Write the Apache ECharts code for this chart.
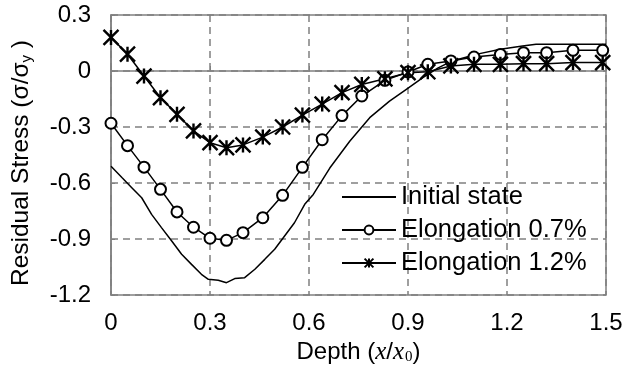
<!DOCTYPE html>
<html>
<head>
<meta charset="utf-8">
<script src="https://cdn.jsdelivr.net/npm/echarts@6/dist/echarts.min.js"></script>
<style>
  html, body { margin: 0; padding: 0; background: #fff; }
  #chart { width: 625px; height: 367px; }
</style>
</head>
<body>
<div id="chart"></div>
<script>
// depth positions of the markers (x/x0)
const markDepth = [0, 0.05, 0.1, 0.15, 0.2, 0.25, 0.3, 0.35, 0.4, 0.46, 0.52, 0.58, 0.64, 0.7, 0.76, 0.83, 0.9, 0.96, 1.03, 1.1, 1.18, 1.25, 1.32, 1.4, 1.49]
// elongation 0.7 %
const stress07 = [-0.28, -0.4, -0.515, -0.634, -0.755, -0.837, -0.896, -0.907, -0.866, -0.786, -0.666, -0.516, -0.368, -0.239, -0.134, -0.05, -0.005, 0.036, 0.054, 0.075, 0.089, 0.098, 0.098, 0.111, 0.111]
// elongation 1.2 %
const stress12 = [0.18, 0.09, -0.027, -0.143, -0.232, -0.321, -0.384, -0.411, -0.396, -0.354, -0.3, -0.236, -0.177, -0.116, -0.072, -0.042, -0.009, -0.004, 0.027, 0.036, 0.036, 0.039, 0.039, 0.045, 0.045]
// initial state (no markers)
const initDepth = [0, 0.033, 0.063, 0.093, 0.123, 0.153, 0.184, 0.214, 0.244, 0.274, 0.295, 0.325, 0.35, 0.375, 0.405, 0.436, 0.466, 0.496, 0.526, 0.556, 0.587, 0.613, 0.663, 0.724, 0.784, 0.844, 0.895, 0.945, 0.99, 1.034, 1.106, 1.18, 1.247, 1.288, 1.5]
const initStress = [-0.51, -0.571, -0.625, -0.679, -0.768, -0.839, -0.911, -0.982, -1.036, -1.089, -1.116, -1.121, -1.134, -1.112, -1.107, -1.062, -1.009, -0.955, -0.884, -0.813, -0.714, -0.661, -0.52, -0.375, -0.25, -0.161, -0.098, -0.036, 0.015, 0.054, 0.089, 0.116, 0.134, 0.143, 0.143]

const xTicks = [0, 0.3, 0.6, 0.9, 1.2, 1.5]
const yTicks = [-1.2, -0.9, -0.6, -0.3, 0, 0.3]

const pair = (xs, ys) => xs.map((x, i) => [x, ys[i]])
const fmt = (v) => String(Math.round(v * 10) / 10)

const font = 'Liberation Sans'
const starPath = 'path://M0,-10L0,10M-10,-10L10,10M-10,10L10,-10'
const gridGray = '#808080'

const chart = echarts.init(document.getElementById('chart'))

chart.setOption({
  animation: false,
  textStyle: { fontFamily: font, color: '#000' },
  grid: {
    left: 111, right: 19, top: 15, bottom: 72,
    show: true, borderColor: gridGray, borderWidth: 1.5,
    containLabel: false, outerBoundsMode: 'none'
  },
  legend: {
    orient: 'vertical',
    left: 336, top: 176,
    itemWidth: 54, itemHeight: 11, itemGap: 1,
    textStyle: { fontSize: 25.5, color: '#000', fontFamily: font, lineHeight: 32 },
    data: [
      { name: 'Initial state', itemStyle: { opacity: 0 } },
      'Elongation 0.7%',
      'Elongation 1.2%'
    ]
  },
  xAxis: {
    type: 'value',
    min: xTicks[0], max: xTicks[xTicks.length - 1], interval: 0.3,
    axisLine: { lineStyle: { color: gridGray, width: 1.5 } },
    axisTick: { inside: true, length: 5, lineStyle: { color: gridGray } },
    axisLabel: { fontSize: 24, color: '#000', margin: 16, formatter: fmt },
    splitLine: { lineStyle: { color: gridGray, type: [7, 5], width: 1.5 } },
    name: '{n|Depth (}{i|x}{n|/}{i|x}{s|0}{n|)}',
    nameLocation: 'middle', nameGap: 40,
    nameTextStyle: {
      rich: {
        n: { fontSize: 24, fontFamily: font, color: '#000' },
        i: { fontSize: 25, fontFamily: 'Liberation Serif', fontStyle: 'italic', color: '#000' },
        s: { fontSize: 15, fontFamily: 'Liberation Serif', color: '#000', verticalAlign: 'bottom', padding: [6, 0, 0, 1] }
      }
    }
  },
  yAxis: {
    type: 'value',
    min: yTicks[0], max: yTicks[yTicks.length - 1], interval: 0.3,
    axisLine: { show: true, lineStyle: { color: gridGray, width: 1.5 } },
    axisTick: { show: true, inside: true, length: 4, lineStyle: { color: gridGray } },
    axisLabel: { fontSize: 24, color: '#000', margin: 20, formatter: fmt },
    splitLine: { lineStyle: { color: gridGray, type: [7, 5], width: 1.5 } },
    name: '{n|Residual Stress (σ/σ}{s|y}{n| )}',
    nameLocation: 'middle', nameGap: 77, nameRotate: 90,
    nameTextStyle: {
      padding: [0, 16, 0, 0],
      rich: {
        n: { fontSize: 24.5, fontFamily: font, color: '#000' },
        s: { fontSize: 15, fontFamily: font, color: '#000', verticalAlign: 'bottom', padding: [6, 0, 0, 0] }
      }
    }
  },
  series: [
    {
      name: 'Initial state',
      type: 'line',
      data: pair(initDepth, initStress),
      showSymbol: false,
      symbol: 'none',
      lineStyle: { color: '#000', width: 1.5 },
      itemStyle: { color: '#000' }
    },
    {
      name: 'Elongation 0.7%',
      type: 'line',
      data: pair(markDepth, stress07),
      symbol: 'emptyCircle',
      symbolSize: 11,
      lineStyle: { color: '#000', width: 1.5 },
      itemStyle: { color: '#000', borderWidth: 1.8 }
    },
    {
      name: 'Elongation 1.2%',
      type: 'line',
      data: pair(markDepth, stress12),
      symbol: starPath,
      symbolSize: 15,
      lineStyle: { color: '#000', width: 1.5 },
      itemStyle: { color: '#000', borderColor: '#000', borderWidth: 2.4 }
    }
  ]
})
</script>
</body>
</html>
